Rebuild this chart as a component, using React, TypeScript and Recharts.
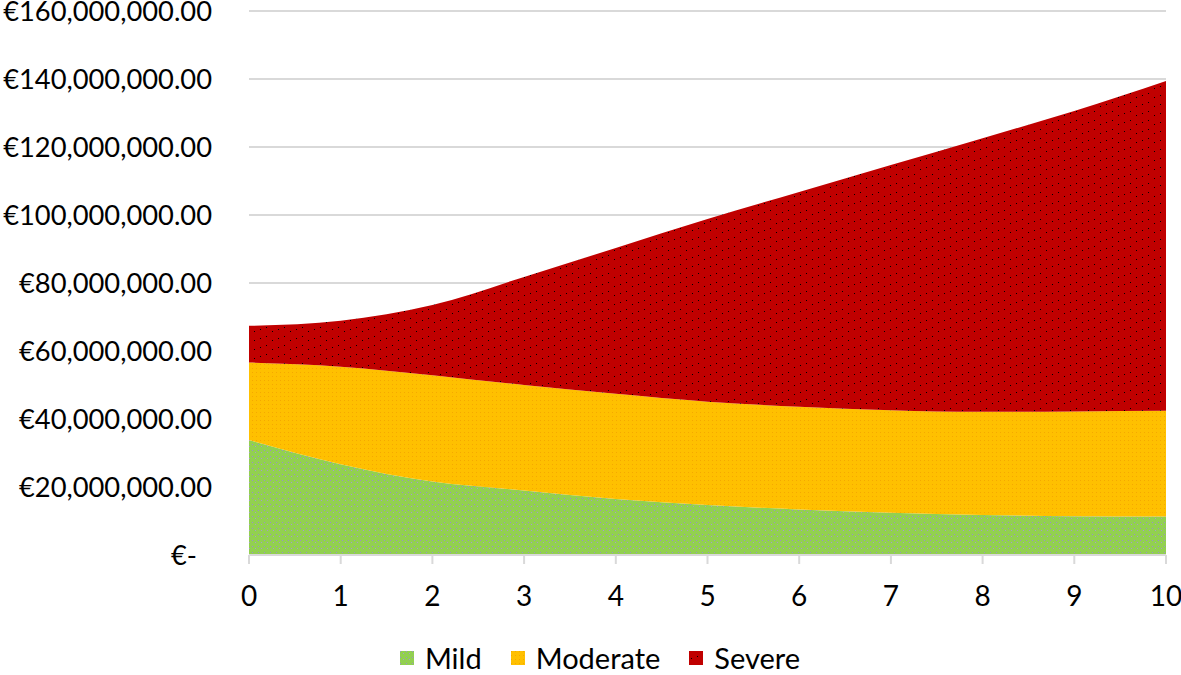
import React from "react";
import {
  AreaChart,
  Area,
  XAxis,
  YAxis,
  CartesianGrid,
  Legend,
} from "recharts";

// values in millions of euros
const years = [0, 1, 2, 3, 4, 5, 6, 7, 8, 9, 10];
const mild = [33.8, 26.7, 21.6, 19.0, 16.5, 14.7, 13.4, 12.4, 11.8, 11.4, 11.3];
const moderate = [22.8, 28.7, 31.3, 31.0, 30.9, 30.4, 30.2, 30.2, 30.3, 30.8, 31.1];
const severe = [10.8, 13.5, 20.6, 31.8, 42.9, 53.7, 63.2, 72.1, 80.5, 88.4, 97.0];
const yTicks = [0, 20e6, 40e6, 60e6, 80e6, 100e6, 120e6, 140e6, 160e6];

const seriesInfo = [
  { key: "mild", name: "Mild", color: "#92D050", pattern: "patMild" },
  { key: "moderate", name: "Moderate", color: "#FFC000", pattern: "patModerate" },
  { key: "severe", name: "Severe", color: "#C00000", pattern: "patSevere" },
];

const data = years.map((y, i) => ({
  year: y,
  mild: mild[i] * 1e6,
  moderate: moderate[i] * 1e6,
  severe: severe[i] * 1e6,
}));

const FONT = "Lato, 'Open Sans', sans-serif";
const FS = 28;

const formatEuro = (v: number) =>
  v === 0
    ? "€-"
    : "€" +
      v.toLocaleString("en-US", {
        minimumFractionDigits: 2,
        maximumFractionDigits: 2,
      });

const YTick = (props: any) => {
  const { x, y, payload } = props;
  const isZero = payload.value === 0;
  return (
    <text
      x={isZero ? x - 15 : x}
      y={y}
      dy={10}
      textAnchor="end"
      fontSize={27.3}
      fontFamily={FONT}
      fill="#000"
    >
      {formatEuro(payload.value)}
    </text>
  );
};

const LegendContent = () => (
  <div
    style={{
      display: "flex",
      justifyContent: "center",
      alignItems: "center",
      gap: 29,
      paddingTop: 25,
      paddingLeft: 34,
      fontFamily: FONT,
      fontSize: 29,
      lineHeight: "35px",
      color: "#000",
    }}
  >
    {seriesInfo.map((s) => (
      <div key={s.key} style={{ display: "flex", alignItems: "center" }}>
        <svg width={14} height={14} style={{ marginRight: 11 }}>
          <rect width={14} height={14} fill={`url(#${s.pattern})`} />
        </svg>
        <span>{s.name}</span>
      </div>
    ))}
  </div>
);

export default function App() {
  return (
    <div style={{ position: "absolute", left: 0, top: 0, background: "#fff" }}>
      <AreaChart
        width={1181}
        height={675}
        data={data}
        margin={{ top: 11, right: 15, left: 0, bottom: 0 }}
      >
        <defs>
          <pattern id="patMild" width="6" height="6" patternUnits="userSpaceOnUse">
            <rect width="6" height="6" fill="#92D050" />
            <rect x="0" y="0" width="1" height="1" fill="#9a8ccf" />
            <rect x="3" y="2" width="1" height="1" fill="#a79ad0" />
          </pattern>
          <pattern id="patModerate" width="4" height="4" patternUnits="userSpaceOnUse">
            <rect width="4" height="4" fill="#FFC000" />
            <rect x="0" y="0" width="1" height="1" fill="#f5a800" />
          </pattern>
          <pattern id="patSevere" width="18" height="9" patternUnits="userSpaceOnUse">
            <rect width="18" height="9" fill="#C00000" />
            <rect x="2" y="7" width="1" height="1" fill="#000" />
            <rect x="8" y="5" width="1" height="1" fill="#000" />
            <rect x="14" y="3" width="1" height="1" fill="#000" />
          </pattern>
        </defs>
        <CartesianGrid vertical={false} stroke="#d9d9d9" strokeWidth={2} />
        <XAxis
          dataKey="year"
          type="number"
          domain={[0, 10]}
          ticks={years}
          height={60}
          stroke="#d9d9d9"
          strokeWidth={2}
          tickSize={9}
          tick={{ fontSize: FS, fontFamily: FONT, fill: "#000" }}
          tickMargin={22}
        />
        <YAxis
          width={249}
          domain={[0, 160e6]}
          ticks={yTicks}
          axisLine={false}
          tickLine={false}
          tickMargin={31}
          tick={<YTick />}
        />
        <Legend verticalAlign="bottom" height={60} content={<LegendContent />} />
        {seriesInfo.map((s) => (
          <Area
            key={s.key}
            type="monotone"
            dataKey={s.key}
            name={s.name}
            stackId="1"
            stroke="none"
            fill={`url(#${s.pattern})`}
            fillOpacity={1}
            isAnimationActive={false}
          />
        ))}
      </AreaChart>
    </div>
  );
}
